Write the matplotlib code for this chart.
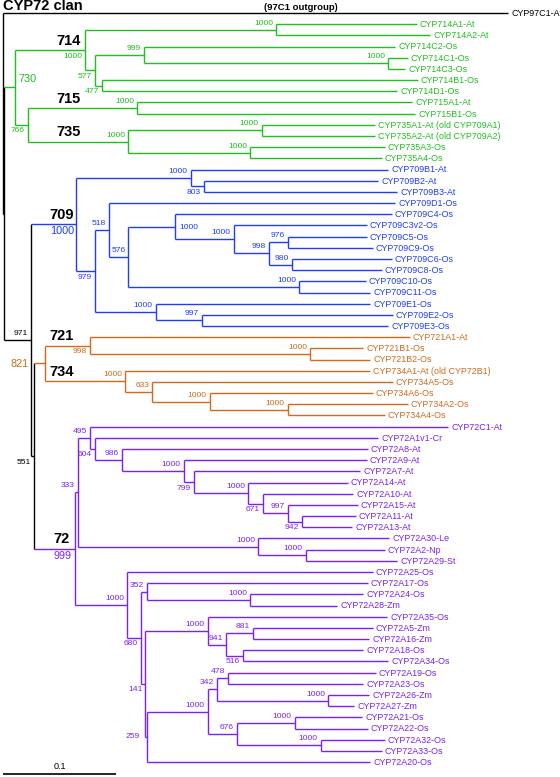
import matplotlib
matplotlib.use('Agg')
import matplotlib.pyplot as plt

plt.rcParams['font.family'] = ['Liberation Sans', 'DejaVu Sans']

# leaves top to bottom: (name, distance root -> tip)
outgroup_leaves = [('CYP97C1-At', 0.447)]
green_leaves = [
    ('CYP714A1-At', 0.366), ('CYP714A2-At', 0.378), ('CYP714C2-Os', 0.347),
    ('CYP714C1-Os', 0.358), ('CYP714C3-Os', 0.356), ('CYP714B1-Os', 0.367),
    ('CYP714D1-Os', 0.349), ('CYP715A1-At', 0.362), ('CYP715B1-Os', 0.365),
    ('CYP735A1-At (old CYP709A1)', 0.329), ('CYP735A2-At (old CYP709A2)', 0.329),
    ('CYP735A3-Os', 0.338), ('CYP735A4-Os', 0.335),
]
blue_leaves = [
    ('CYP709B1-At', 0.341), ('CYP709B2-At', 0.332), ('CYP709B3-At', 0.349),
    ('CYP709D1-Os', 0.347), ('CYP709C4-Os', 0.344), ('CYP709C3v2-Os', 0.322),
    ('CYP709C5-Os', 0.322), ('CYP709C9-Os', 0.327), ('CYP709C6-Os', 0.344),
    ('CYP709C8-Os', 0.335), ('CYP709C10-Os', 0.321), ('CYP709C11-Os', 0.325),
    ('CYP709E1-Os', 0.325), ('CYP709E2-Os', 0.345), ('CYP709E3-Os', 0.341),
]
orange_leaves = [
    ('CYP721A1-At', 0.360), ('CYP721B1-Os', 0.319), ('CYP721B2-Os', 0.325),
    ('CYP734A1-At (old CYP72B1)', 0.325), ('CYP734A5-Os', 0.345),
    ('CYP734A6-Os', 0.327), ('CYP734A2-Os', 0.358), ('CYP734A4-Os', 0.338),
]
purple_leaves = [
    ('CYP72C1-At', 0.394), ('CYP72A1v1-Cr', 0.332), ('CYP72A8-At', 0.323),
    ('CYP72A9-At', 0.322), ('CYP72A7-At', 0.316), ('CYP72A14-At', 0.305),
    ('CYP72A10-At', 0.310), ('CYP72A15-At', 0.314), ('CYP72A11-At', 0.312),
    ('CYP72A13-At', 0.309), ('CYP72A30-Le', 0.342), ('CYP72A2-Np', 0.338),
    ('CYP72A29-St', 0.349), ('CYP72A25-Os', 0.327), ('CYP72A17-Os', 0.323),
    ('CYP72A24-Os', 0.319), ('CYP72A28-Zm', 0.296), ('CYP72A35-Os', 0.340),
    ('CYP72A5-Zm', 0.327), ('CYP72A16-Zm', 0.324), ('CYP72A18-Os', 0.319),
    ('CYP72A34-Os', 0.341), ('CYP72A19-Os', 0.330), ('CYP72A23-Os', 0.319),
    ('CYP72A26-Zm', 0.324), ('CYP72A27-Zm', 0.311), ('CYP72A21-Os', 0.318),
    ('CYP72A22-Os', 0.323), ('CYP72A32-Os', 0.338), ('CYP72A33-Os', 0.335),
    ('CYP72A20-Os', 0.325),
]

# internal nodes: (id, depth, children, bootstrap, where the bootstrap goes)
backbone_nodes = [
    ('root', 0.000, ['CYP97C1-At', 'clan'], None, ''),
    ('clan', 0.001, ['n730', 'n971'], None, ''),
    ('n971', 0.025, ['n709', 'n551'], 971, 'a'),
    ('n551', 0.027, ['n821', 'n72'], 551, 'b'),
]
green_nodes = [
    ('n730', 0.011, ['n714', 'n766'], 730, 'big'),
    ('n714', 0.073, ['n714A', 'n577'], 1000, 'b'),
    ('n714A', 0.242, ['CYP714A1-At', 'CYP714A2-At'], 1000, 'a'),
    ('n577', 0.081, ['n999', 'n477'], 577, 'b'),
    ('n999', 0.125, ['CYP714C2-Os', 'n714C'], 999, 'a'),
    ('n714C', 0.341, ['CYP714C1-Os', 'CYP714C3-Os'], 1000, 'a'),
    ('n477', 0.088, ['CYP714B1-Os', 'CYP714D1-Os'], 477, 'b'),
    ('n766', 0.022, ['n715', 'n735'], 766, 'b'),
    ('n715', 0.119, ['CYP715A1-At', 'CYP715B1-Os'], 1000, 'a'),
    ('n735', 0.111, ['n735A', 'n735B'], 1000, 'a'),
    ('n735A', 0.229, ['CYP735A1-At (old CYP709A1)', 'CYP735A2-At (old CYP709A2)'], 1000, 'a'),
    ('n735B', 0.219, ['CYP735A3-Os', 'CYP735A4-Os'], 1000, 'a'),
]
blue_nodes = [
    ('n709', 0.065, ['n709B', 'n979'], 1000, 'big'),
    ('n709B', 0.166, ['CYP709B1-At', 'n803'], 1000, 'a'),
    ('n803', 0.178, ['CYP709B2-At', 'CYP709B3-At'], 803, 'b'),
    ('n979', 0.081, ['n518', 'n709E'], 979, 'b'),
    ('n518', 0.094, ['CYP709D1-Os', 'n576'], 518, 'a'),
    ('n576', 0.111, ['n709C', 'n709C10'], 576, 'a'),
    ('n709C', 0.152, ['CYP709C4-Os', 'n709C3'], 1000, 'r'),
    ('n709C3', 0.204, ['CYP709C3v2-Os', 'n998'], 1000, 'a'),
    ('n998', 0.235, ['n976', 'n980'], 998, 'a'),
    ('n976', 0.252, ['CYP709C5-Os', 'CYP709C9-Os'], 976, 'a'),
    ('n980', 0.256, ['CYP709C6-Os', 'CYP709C8-Os'], 980, 'a'),
    ('n709C10', 0.262, ['CYP709C10-Os', 'CYP709C11-Os'], 1000, 'a'),
    ('n709E', 0.135, ['CYP709E1-Os', 'n997'], 1000, 'a'),
    ('n997', 0.176, ['CYP709E2-Os', 'CYP709E3-Os'], 997, 'a'),
]
orange_nodes = [
    ('n821', 0.037, ['n721', 'n734'], 821, 'big'),
    ('n721', 0.077, ['CYP721A1-At', 'n721B'], 998, 'b'),
    ('n721B', 0.272, ['CYP721B1-Os', 'CYP721B2-Os'], 1000, 'a'),
    ('n734', 0.108, ['CYP734A1-At (old CYP72B1)', 'n633'], 1000, 'a'),
    ('n633', 0.132, ['CYP734A5-Os', 'n734B'], 633, 'a'),
    ('n734B', 0.183, ['CYP734A6-Os', 'n734C'], 1000, 'a'),
    ('n734C', 0.252, ['CYP734A2-Os', 'CYP734A4-Os'], 1000, 'a'),
]
purple_nodes = [
    ('n72', 0.064, ['n333', 'n72B'], 999, 'big'),
    ('n333', 0.066, ['n495', 'n72A30'], 333, 'a'),
    ('n495', 0.077, ['CYP72C1-At', 'n604'], 495, 'a'),
    ('n604', 0.081, ['CYP72A1v1-Cr', 'n986'], 604, 'b'),
    ('n986', 0.105, ['CYP72A8-At', 'n72A9'], 986, 'a'),
    ('n72A9', 0.160, ['CYP72A9-At', 'n799'], 1000, 'a'),
    ('n799', 0.169, ['CYP72A7-At', 'n72A14'], 799, 'b'),
    ('n72A14', 0.217, ['CYP72A14-At', 'n671'], 1000, 'a'),
    ('n671', 0.230, ['CYP72A10-At', 'n997b'], 671, 'b'),
    ('n997b', 0.252, ['CYP72A15-At', 'n942'], 997, 'a'),
    ('n942', 0.265, ['CYP72A11-At', 'CYP72A13-At'], 942, 'b'),
    ('n72A30', 0.226, ['CYP72A30-Le', 'n72A2'], 1000, 'a'),
    ('n72A2', 0.268, ['CYP72A2-Np', 'CYP72A29-St'], 1000, 'a'),
    ('n72B', 0.110, ['CYP72A25-Os', 'n680'], 1000, 'a'),
    ('n680', 0.122, ['n352', 'n141'], 680, 'b'),
    ('n352', 0.127, ['CYP72A17-Os', 'n72A24'], 352, 'a'),
    ('n72A24', 0.219, ['CYP72A24-Os', 'CYP72A28-Zm'], 1000, 'a'),
    ('n141', 0.126, ['n72A35', 'n259'], 141, 'b'),
    ('n72A35', 0.181, ['CYP72A35-Os', 'n941'], 1000, 'a'),
    ('n941', 0.197, ['n881', 'n516'], 941, 'a'),
    ('n881', 0.221, ['CYP72A5-Zm', 'CYP72A16-Zm'], 881, 'a'),
    ('n516', 0.212, ['CYP72A18-Os', 'CYP72A34-Os'], 516, 'b'),
    ('n259', 0.127, ['n72A19', 'CYP72A20-Os'], 259, 'm'),
    ('n72A19', 0.181, ['n342', 'n676'], 1000, 'a'),
    ('n342', 0.189, ['n478', 'n72A26'], 342, 'a'),
    ('n478', 0.199, ['CYP72A19-Os', 'CYP72A23-Os'], 478, 'a'),
    ('n72A26', 0.288, ['CYP72A26-Zm', 'CYP72A27-Zm'], 1000, 'a'),
    ('n676', 0.207, ['n72A21', 'n72A32'], 676, 'a'),
    ('n72A21', 0.258, ['CYP72A21-Os', 'CYP72A22-Os'], 1000, 'a'),
    ('n72A32', 0.281, ['CYP72A32-Os', 'CYP72A33-Os'], 1000, 'a'),
]

# subfamily names written on the branches
clade_tags = [('n714', '714'), ('n715', '715'), ('n735', '735'), ('n709', '709'),
              ('n721', '721'), ('n734', '734'), ('n72', '72')]

GREEN, BLUE, ORANGE, PURPLE = '#1ec01e', '#1f3cff', '#d2691e', '#7b1fff'
groups = [
    ('black', outgroup_leaves, backbone_nodes),
    (GREEN, green_leaves, green_nodes),
    (BLUE, blue_leaves, blue_nodes),
    (ORANGE, orange_leaves, orange_nodes),
    (PURPLE, purple_leaves, purple_nodes),
]

depth, colour, kids, boot, ypos = {}, {}, {}, {}, {}
leaf_order = []
for col, leaves, nodes in groups:
    for name, d in leaves:
        depth[name] = d
        colour[name] = col
        ypos[name] = len(leaf_order)
        leaf_order.append(name)
    for nid, d, ch, b, pos in nodes:
        depth[nid] = d
        colour[nid] = col
        kids[nid] = ch
        boot[nid] = (b, pos)


def place(n):
    if n not in kids:
        return ypos[n]
    ys = [place(k) for k in kids[n]]
    ypos[n] = (ys[0] + ys[-1]) / 2
    return ypos[n]


place('root')

PX_X = 1 / 1130       # data units per pixel, x
PX_Y = 1 / 11.18      # leaf spacing in pixels
PT = 0.72             # points per pixel at 100 dpi

fig = plt.figure(figsize=(5.6, 7.77), dpi=100)
ax = fig.add_axes([0, 0, 1, 1])
ax.set_xlim(-3 * PX_X, 557 * PX_X)
ax.set_ylim(764 * PX_Y, -13 * PX_Y)
ax.axis('off')

lw = 1.0
for n, ch in kids.items():
    x = depth[n]
    ax.plot([x, x], [ypos[ch[0]], ypos[ch[-1]]], color=colour[n], lw=lw,
            solid_capstyle='butt')
    for k in ch:
        ax.plot([x, depth[k]], [ypos[k], ypos[k]], color=colour[k], lw=lw,
                solid_capstyle='butt')

for name in leaf_order:
    ax.annotate(name, (depth[name], ypos[name]), xytext=(3 * PT, -0.3),
                textcoords='offset points', ha='left', va='center',
                fontsize=6.4, color=colour[name])

offsets = {'a': (-3, 6.5, 'right'), 'b': (-3, -6, 'right'),
           'r': (5, -1, 'left'), 'm': (-7, 0.5, 'right')}
for n, (b, pos) in boot.items():
    if b is None or pos not in offsets:
        continue
    dx, dy, ha = offsets[pos]
    ax.annotate(str(b), (depth[n], ypos[n]), xytext=(dx * PT, dy * PT),
                textcoords='offset points', ha=ha, va='center',
                fontsize=6.1, color=colour[n])

# big bold subfamily numbers, green ones sit a bit further right
for n, tag in clade_tags:
    cx = 68.5 if colour[n] == GREEN else 62
    ax.text((cx - 3) * PX_X, ypos[n] - 9.5 * PX_Y, tag, ha='center',
            va='center', fontsize=10.5, fontweight='bold', color='black')
    b, pos = boot[n]
    if pos == 'big':
        ax.text((cx - 3) * PX_X, ypos[n] + 7 * PX_Y, str(b), ha='center',
                va='center', fontsize=7.8, color=colour[n])

b, _ = boot['n730']
ax.annotate(str(b), (depth['n730'], ypos['n730']), xytext=(3 * PT, 8 * PT),
            textcoords='offset points', ha='left', va='center',
            fontsize=7.8, color=GREEN)
b, _ = boot['n821']
ax.text(17 * PX_X, ypos['n821'] + 1 * PX_Y, str(b), ha='center', va='center',
        fontsize=7.8, color=ORANGE)

# scale bar
ybar = (774 - 13) * PX_Y
ax.plot([0, 0.1], [ybar, ybar], color='black', lw=1.2, solid_capstyle='butt')
ax.text(0.05, (766 - 13) * PX_Y, '0.1', ha='center', va='center', fontsize=6.5)

fig.text(3 / 560, 1 - 6.5 / 777, 'CYP72 clan', ha='left', va='center',
         fontsize=10.5, fontweight='bold')
fig.text(301 / 560, 1 - 8 / 777, '(97C1 outgroup)', ha='center', va='center',
         fontsize=6.8, fontweight='bold')

fig.savefig('out.png', dpi=100)
